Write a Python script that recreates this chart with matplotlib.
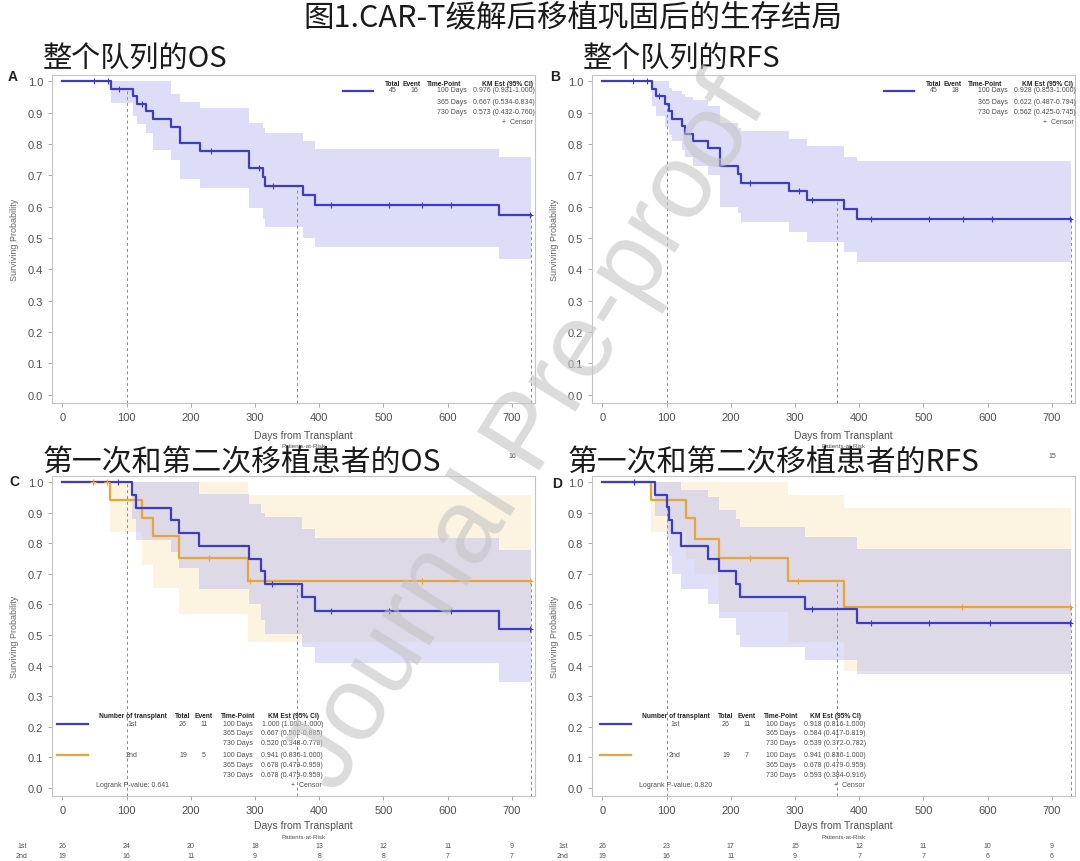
import numpy as np
import matplotlib
matplotlib.use('Agg')
import matplotlib.pyplot as plt
from matplotlib.lines import Line2D
from matplotlib import transforms

plt.rcParams['font.family'] = ['Liberation Sans', 'DejaVu Sans']
CJK = ['Noto Sans CJK SC', 'DejaVu Sans']

W, H = 1080, 862

# ---- A: whole cohort OS
os_t = [0, 76, 110, 117, 130, 142, 169, 183, 214, 290, 312, 316, 375, 394, 680, 730]
os_s = [1.0, 0.976, 0.952, 0.929, 0.905, 0.881, 0.855, 0.804, 0.777, 0.723, 0.695, 0.667, 0.637, 0.607, 0.573, 0.573]
os_lo = [1.0, 0.931, 0.89, 0.865, 0.835, 0.78, 0.75, 0.687, 0.66, 0.597, 0.56, 0.534, 0.50, 0.473, 0.432, 0.432]
os_hi = [1.0, 1.0, 1.0, 1.0, 1.0, 1.0, 0.96, 0.933, 0.915, 0.867, 0.85, 0.834, 0.81, 0.785, 0.76, 0.76]
os_cens = [49, 71, 89, 124, 231, 307, 328, 418, 508, 560, 605, 728]

# ---- B: whole cohort RFS
rfs_t = [0, 77, 83, 98, 104, 108, 124, 129, 141, 165, 183, 211, 216, 291, 318, 377, 397, 730]
rfs_s = [1.0, 0.976, 0.952, 0.929, 0.905, 0.881, 0.857, 0.833, 0.81, 0.786, 0.73, 0.705, 0.676, 0.649, 0.622, 0.592, 0.562, 0.562]
rfs_lo = [1.0, 0.92, 0.89, 0.853, 0.83, 0.81, 0.78, 0.76, 0.73, 0.70, 0.60, 0.58, 0.55, 0.52, 0.487, 0.456, 0.425, 0.425]
rfs_hi = [1.0, 1.0, 1.0, 1.0, 0.98, 0.97, 0.96, 0.95, 0.94, 0.92, 0.867, 0.85, 0.84, 0.815, 0.794, 0.76, 0.745, 0.745]
rfs_cens = [48, 70, 89, 230, 307, 327, 419, 509, 562, 606, 728]

# ---- C: OS by transplant number
c1_t = [0, 108, 115, 169, 182, 213, 290, 310, 316, 374, 394, 680, 730]
c1_s = [1.0, 0.958, 0.917, 0.875, 0.833, 0.792, 0.75, 0.708, 0.667, 0.625, 0.578, 0.52, 0.52]
c1_lo = [1.0, 0.88, 0.81, 0.77, 0.72, 0.65, 0.60, 0.55, 0.502, 0.46, 0.41, 0.348, 0.348]
c1_hi = [1.0, 1.0, 1.0, 1.0, 1.0, 0.96, 0.93, 0.90, 0.885, 0.847, 0.816, 0.778, 0.778]
c1_cens = [87, 327, 419, 508, 605, 728]
c2_t = [0, 75, 124, 141, 181, 289, 730]
c2_s = [1.0, 0.941, 0.882, 0.824, 0.753, 0.678, 0.678]
c2_lo = [1.0, 0.836, 0.73, 0.655, 0.57, 0.479, 0.479]
c2_hi = [1.0, 1.0, 1.0, 1.0, 1.0, 0.959, 0.959]
c2_cens = [48, 69, 229, 293, 560, 728]

# ---- D: RFS by transplant number
d1_t = [0, 82, 100, 104, 108, 123, 164, 181, 208, 214, 315, 396, 730]
d1_s = [1.0, 0.958, 0.918, 0.875, 0.833, 0.792, 0.75, 0.708, 0.667, 0.625, 0.584, 0.539, 0.539]
d1_lo = [1.0, 0.89, 0.816, 0.76, 0.70, 0.65, 0.60, 0.555, 0.50, 0.46, 0.417, 0.372, 0.372]
d1_hi = [1.0, 1.0, 1.0, 1.0, 1.0, 0.975, 0.95, 0.91, 0.88, 0.852, 0.819, 0.782, 0.782]
d1_cens = [50, 327, 419, 509, 604, 728]
d2_t = [0, 76, 130, 144, 181, 289, 376, 730]
d2_s = [1.0, 0.941, 0.882, 0.815, 0.753, 0.678, 0.593, 0.593]
d2_lo = [1.0, 0.836, 0.75, 0.70, 0.574, 0.479, 0.384, 0.384]
d2_hi = [1.0, 1.0, 1.0, 1.0, 1.0, 0.959, 0.916, 0.916]
d2_cens = [50, 230, 304, 560, 728]

# legend tables
time_points = ['100 Days', '365 Days', '730 Days']
os_est = ['0.976 (0.931-1.000)', '0.667 (0.534-0.834)', '0.573 (0.432-0.760)']
rfs_est = ['0.928 (0.853-1.000)', '0.622 (0.487-0.794)', '0.562 (0.425-0.745)']
c1_est = ['1.000 (1.000-1.000)', '0.667 (0.502-0.885)', '0.520 (0.348-0.778)']
c2_est = ['0.941 (0.836-1.000)', '0.678 (0.479-0.959)', '0.678 (0.479-0.959)']
d1_est = ['0.918 (0.816-1.000)', '0.584 (0.417-0.819)', '0.539 (0.372-0.782)']
d2_est = ['0.941 (0.836-1.000)', '0.678 (0.479-0.959)', '0.593 (0.384-0.916)']

# patients at risk (A/B rows are mostly hidden under the C/D titles)
risk_days = [0, 100, 200, 300, 400, 500, 600, 700]
os_risk_end = 16
rfs_risk_end = 15
c1_risk = [26, 24, 20, 18, 13, 12, 11, 9]
c2_risk = [19, 16, 11, 9, 8, 8, 7, 7]
d1_risk = [26, 23, 17, 15, 12, 11, 10, 9]
d2_risk = [19, 16, 11, 9, 7, 7, 6, 6]

BLUE = '#3d3dbf'
ORANGE = '#e9a53a'
BAND_B = '#b4b4f0'
BAND_O = '#f7d58a'
GREY = '#505050'

fig = plt.figure(figsize=(W / 100, H / 100), dpi=100)


def put(x, y, s, **kw):
    return fig.text(x / W, 1 - y / H, s, **kw)


def step_at(t, s, when):
    i = np.searchsorted(t, when, side='right') - 1
    return np.asarray(s)[i]


def make_axes(left, top, right, bottom):
    ax = fig.add_axes([left / W, 1 - bottom / H, (right - left) / W, (bottom - top) / H])
    ax.set_xlim(-16, 736)
    ax.set_ylim(-0.026, 1.02)
    ax.set_xticks(risk_days)
    ax.set_yticks(np.arange(0, 1.01, 0.1))
    ax.set_yticklabels(['%.1f' % v for v in np.arange(0, 1.01, 0.1)])
    ax.tick_params(labelsize=8, colors='#9a9a9a', labelcolor=GREY, length=3, width=0.6)
    for sp in ax.spines.values():
        sp.set_color('#c4c4c4')
        sp.set_linewidth(0.8)
    ax.set_ylabel('Surviving Probability', fontsize=6.5, color='#666666', labelpad=6)
    return ax


def band(ax, t, lo, hi, color, alpha):
    ax.fill_between(t, lo, hi, step='post', color=color, alpha=alpha, lw=0, zorder=1)


def curve(ax, t, s, cens, color):
    ax.step(t, s, where='post', color=color, lw=1.6, zorder=4)
    ax.plot(cens, step_at(t, s, cens), '+', color=color, ms=4, mew=0.8, zorder=5)


def refs(ax, curves):
    for d in [100, 365, 730]:
        top = max(step_at(t, s, d) for t, s in curves)
        ax.vlines(d, -0.026, top, colors='#8a8a8a', lw=0.7, linestyles=(0, (3, 3)), zorder=3)


def xlabels(ax, y_lab, y_par):
    put_x = (ax.get_position().x0 + ax.get_position().x1) / 2 * W
    put(put_x + 10, y_lab, 'Days from Transplant', fontsize=7.5, color=GREY, ha='center', va='center')
    put(put_x + 10, y_par, 'Patients-at-Risk', fontsize=4.5, color=GREY, ha='center', va='center')


def risk_row(ax, y, days, vals):
    tr = transforms.blended_transform_factory(ax.transData, fig.transFigure)
    for d, v in zip(days, vals):
        ax.text(d, 1 - y / H, str(v), transform=tr, fontsize=5, color=GREY,
                ha='center', va='center', clip_on=False)


def legend_line(x1, x2, y, color):
    fig.add_artist(Line2D([x1 / W, x2 / W], [1 - y / H, 1 - y / H], color=color, lw=1.6,
                          transform=fig.transFigure))


def single_legend(dx, total, event, est):
    fs = 5
    for txt, x in [('Total', 393), ('Event', 412), ('Time-Point', 444), ('KM Est (95% CI)', 507)]:
        put(x + dx, 84, txt, fontsize=4.8, weight='bold', ha='center', va='center', color='#222222')
    legend_line(343 + dx, 373 + dx, 92, BLUE)
    put(393 + dx, 91, total, fontsize=fs, ha='center', va='center', color=GREY)
    put(414 + dx, 91, event, fontsize=fs, ha='center', va='center', color=GREY)
    for k, y in enumerate([91, 102, 112]):
        put(467 + dx, y, time_points[k], fontsize=fs, ha='right', va='center', color=GREY)
        put(535 + dx, y, est[k], fontsize=fs, ha='right', va='center', color=GREY)
    put(533 + dx, 123, '+  Censor', fontsize=fs, ha='right', va='center', color=GREY)


def group_legend(dx, tot1, ev1, tot2, ev2, est1, est2, pval):
    fs = 5
    for txt, x in [('Number of transplant', 133), ('Total', 183), ('Event', 204),
                   ('Time-Point', 238), ('KM Est (95% CI)', 293)]:
        put(x + dx, 716, txt, fontsize=4.8, weight='bold', ha='center', va='center', color='#222222')
    rows = [[725, 734, 744], [756, 766, 776]]
    for g, (lab, tot, ev, est, col) in enumerate([('1st', tot1, ev1, est1, BLUE),
                                                   ('2nd', tot2, ev2, est2, ORANGE)]):
        y0 = rows[g][0]
        legend_line(57 + dx, 88 + dx, y0, col)
        put(132 + dx, y0, lab, fontsize=fs, ha='center', va='center', color=GREY)
        put(183 + dx, y0, tot, fontsize=fs, ha='center', va='center', color=GREY)
        put(204 + dx, y0, ev, fontsize=fs, ha='center', va='center', color=GREY)
        for k, y in enumerate(rows[g]):
            put(253 + dx, y, time_points[k], fontsize=fs, ha='right', va='center', color=GREY)
            put(323 + dx, y, est[k], fontsize=fs, ha='right', va='center', color=GREY)
    put(96 + dx, 786, 'Logrank P-value: ' + pval, fontsize=fs, ha='left', va='center', color=GREY)
    put(322 + dx, 786, '+  Censor', fontsize=fs, ha='right', va='center', color=GREY)


# ---- panel A
axA = make_axes(52, 76, 535, 404)
band(axA, os_t, os_lo, os_hi, BAND_B, 0.45)
refs(axA, [(os_t, os_s)])
curve(axA, os_t, os_s, os_cens, BLUE)
single_legend(0, '45', '16', os_est)
xlabels(axA, 436, 447)
risk_row(axA, 457, [700], [os_risk_end])

# ---- panel B
axB = make_axes(592, 76, 1075, 404)
band(axB, rfs_t, rfs_lo, rfs_hi, BAND_B, 0.45)
refs(axB, [(rfs_t, rfs_s)])
curve(axB, rfs_t, rfs_s, rfs_cens, BLUE)
single_legend(541, '45', '18', rfs_est)
xlabels(axB, 436, 447)
risk_row(axB, 457, [700], [rfs_risk_end])

# ---- panel C
axC = make_axes(52, 477, 535, 797)
band(axC, c2_t, c2_lo, c2_hi, BAND_O, 0.25)
band(axC, c1_t, c1_lo, c1_hi, BAND_B, 0.42)
refs(axC, [(c1_t, c1_s), (c2_t, c2_s)])
curve(axC, c2_t, c2_s, c2_cens, ORANGE)
curve(axC, c1_t, c1_s, c1_cens, BLUE)
group_legend(0, '26', '11', '19', '5', c1_est, c2_est, '0.641')
xlabels(axC, 826, 838)
risk_row(axC, 847, risk_days, c1_risk)
risk_row(axC, 857, risk_days, c2_risk)
put(22, 847, '1st', fontsize=5, ha='center', va='center', color=GREY)
put(22, 857, '2nd', fontsize=5, ha='center', va='center', color=GREY)

# ---- panel D
axD = make_axes(592, 477, 1075, 797)
band(axD, d2_t, d2_lo, d2_hi, BAND_O, 0.25)
band(axD, d1_t, d1_lo, d1_hi, BAND_B, 0.42)
refs(axD, [(d1_t, d1_s), (d2_t, d2_s)])
curve(axD, d2_t, d2_s, d2_cens, ORANGE)
curve(axD, d1_t, d1_s, d1_cens, BLUE)
group_legend(543, '26', '11', '19', '7', d1_est, d2_est, '0.820')
xlabels(axD, 826, 838)
risk_row(axD, 847, risk_days, d1_risk)
risk_row(axD, 857, risk_days, d2_risk)
put(563, 847, '1st', fontsize=5, ha='center', va='center', color=GREY)
put(563, 857, '2nd', fontsize=5, ha='center', va='center', color=GREY)

# panel letters
for lab, x, y in [('A', 13, 77), ('B', 555, 77), ('C', 14, 482), ('D', 557, 484)]:
    put(x, y, lab, fontsize=10, weight='bold', ha='center', va='center', color='#222222')

# titles
put(573, 18, '图1.CAR-T缓解后移植巩固后的生存结局', family=CJK, fontsize=22, ha='center', va='center', color='#1a1a1a')
put(43, 60, '整个队列的OS', family=CJK, fontsize=21, ha='left', va='center', color='#1a1a1a')
put(583, 60, '整个队列的RFS', family=CJK, fontsize=21, ha='left', va='center', color='#1a1a1a')
put(43, 463, '第一次和第二次移植患者的OS', family=CJK, fontsize=21.5, ha='left', va='center', color='#1a1a1a')
put(568, 463, '第一次和第二次移植患者的RFS', family=CJK, fontsize=21.5, ha='left', va='center', color='#1a1a1a')

# watermark
t = fig.text(0.49, 0.495, 'Journal Pre-proof', fontsize=76, color='#c4c4c4', alpha=0.6,
             rotation=58, ha='center', va='center', rotation_mode='anchor', family='Liberation Sans')
t.set_zorder(20)

fig.savefig('out.png', dpi=100, facecolor='white')
